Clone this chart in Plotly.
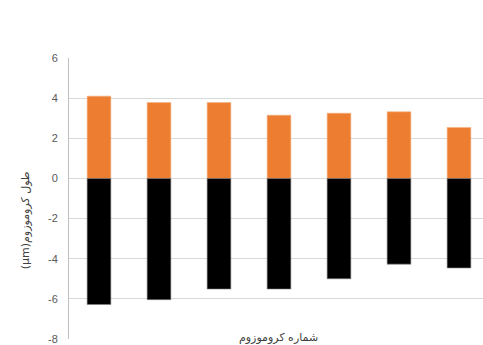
import plotly.graph_objects as go

# Chromosome number and arm lengths (µm)
chromosomes = ["1", "2", "3", "4", "5", "6", "7"]
short_arm = [4.1, 3.78, 3.78, 3.15, 3.25, 3.32, 2.54]
long_arm = [-6.28, -6.04, -5.51, -5.51, -5.0, -4.27, -4.46]
y_ticks = [-8, -6, -4, -2, 0, 2, 4, 6]
y_tick_text = ["-8", "-6", "-4", "-2", "0", "2", "4", "6"]

x_title = "شماره کروموزوم"
y_title = "(µm)طول کروموزوم"

fig = go.Figure()
fig.add_trace(go.Bar(
    x=chromosomes, y=short_arm, marker=dict(color="#ED7D31", line=dict(color="#F4B183", width=0.6)),
    width=0.395, showlegend=False,
))
fig.add_trace(go.Bar(
    x=chromosomes, y=long_arm, marker=dict(color="#000000", line=dict(color="#7f7f7f", width=0.6)),
    width=0.395, showlegend=False,
))

fig.update_layout(
    width=483, height=345,
    barmode="relative",
    plot_bgcolor="white", paper_bgcolor="white",
    margin=dict(l=69, r=0, t=58, b=6),
    font=dict(family="Liberation Sans, Arial", size=11, color="#595959"),
    xaxis=dict(
        type="category", range=[-0.5, 6.4], showticklabels=False,
        showgrid=False, showline=False, zeroline=False, ticks="",
    ),
    yaxis=dict(
        range=[-8, 6], tickvals=y_ticks, ticktext=y_tick_text,
        showgrid=True, gridcolor="#d9d9d9", gridwidth=1,
        zeroline=True, zerolinecolor="#d9d9d9", zerolinewidth=1,
        showline=True, linecolor="#bfbfbf", linewidth=1, ticks="",
        ticklabelstandoff=8, tickfont=dict(size=11, color="#595959"),
    ),
    annotations=[
        dict(text=x_title, xref="paper", yref="paper", x=0.507, y=0.007,
             showarrow=False, xanchor="center", yanchor="middle",
             font=dict(family="DejaVu Sans", size=11, color="#404040")),
        dict(text=y_title, xref="paper", yref="paper", x=-0.106, y=0.423,
             showarrow=False, textangle=-90, xanchor="center", yanchor="middle",
             font=dict(family="DejaVu Sans", size=11, color="#404040")),
    ],
)

fig.write_html("out.html")
